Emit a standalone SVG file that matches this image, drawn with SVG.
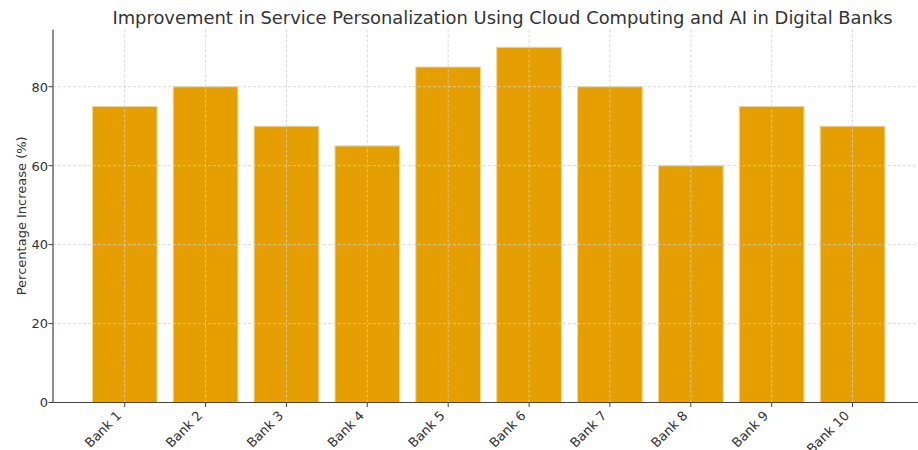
<svg xmlns="http://www.w3.org/2000/svg" width="918" height="450" viewBox="0 0 918 450">
  <style>
    text { font-family: "DejaVu Sans", "Liberation Sans", sans-serif; fill: #333333; }
    .title { font-size: 17.9px; }
    .tick { font-size: 13px; }
    .bar { fill: #E69F00; stroke: #f5d48c; stroke-width: 1; }
    .grid line { stroke: #cfcfcf; stroke-width: 0.8; stroke-dasharray: 3 2; }
    .spine { stroke: #444444; stroke-width: 1.2; }
    .tickmark { stroke: #444444; stroke-width: 1; }
  </style>
  <rect width="918" height="450" fill="#ffffff"/>

  <text class="title" x="502.5" y="23.5" text-anchor="middle">Improvement in Service Personalization Using Cloud Computing and AI in Digital Banks</text>

  <!-- bars: value v spans y = 402.5 - 3.947*v -->
  <g id="bars">
    <rect id="bank1" class="bar" x="92.4" y="106.5" width="64.7" height="296"/>
    <rect id="bank2" class="bar" x="173.2" y="86.7" width="64.7" height="315.8"/>
    <rect id="bank3" class="bar" x="254.1" y="126.2" width="64.7" height="276.3"/>
    <rect id="bank4" class="bar" x="335.0" y="145.9" width="64.7" height="256.6"/>
    <rect id="bank5" class="bar" x="415.8" y="67.0" width="64.7" height="335.5"/>
    <rect id="bank6" class="bar" x="496.7" y="47.3" width="64.7" height="355.2"/>
    <rect id="bank7" class="bar" x="577.6" y="86.7" width="64.7" height="315.8"/>
    <rect id="bank8" class="bar" x="658.5" y="165.7" width="64.7" height="236.8"/>
    <rect id="bank9" class="bar" x="739.3" y="106.5" width="64.7" height="296"/>
    <rect id="bank10" class="bar" x="820.2" y="126.2" width="64.7" height="276.3"/>
  </g>

  <!-- dashed grid over the bars -->
  <g class="grid">
    <line x1="53" y1="402.5" x2="918" y2="402.5"/>
    <line x1="53" y1="323.6" x2="918" y2="323.6"/>
    <line x1="53" y1="244.6" x2="918" y2="244.6"/>
    <line x1="53" y1="165.7" x2="918" y2="165.7"/>
    <line x1="53" y1="86.7" x2="918" y2="86.7"/>
    <line x1="124.7" y1="29.5" x2="124.7" y2="402.5"/>
    <line x1="205.6" y1="29.5" x2="205.6" y2="402.5"/>
    <line x1="286.5" y1="29.5" x2="286.5" y2="402.5"/>
    <line x1="367.3" y1="29.5" x2="367.3" y2="402.5"/>
    <line x1="448.2" y1="29.5" x2="448.2" y2="402.5"/>
    <line x1="529.1" y1="29.5" x2="529.1" y2="402.5"/>
    <line x1="609.9" y1="29.5" x2="609.9" y2="402.5"/>
    <line x1="690.8" y1="29.5" x2="690.8" y2="402.5"/>
    <line x1="771.7" y1="29.5" x2="771.7" y2="402.5"/>
    <line x1="852.5" y1="29.5" x2="852.5" y2="402.5"/>
  </g>

  <!-- spines and tick marks -->
  <g id="axes">
    <line class="spine" x1="53" y1="29.5" x2="53" y2="403"/>
    <line class="spine" x1="52.4" y1="402.5" x2="918" y2="402.5"/>
    <g class="tickmark">
      <line x1="48.5" y1="402.5" x2="53" y2="402.5"/>
      <line x1="48.5" y1="323.6" x2="53" y2="323.6"/>
      <line x1="48.5" y1="244.6" x2="53" y2="244.6"/>
      <line x1="48.5" y1="165.7" x2="53" y2="165.7"/>
      <line x1="48.5" y1="86.7" x2="53" y2="86.7"/>
      <line x1="124.7" y1="402.5" x2="124.7" y2="407"/>
      <line x1="205.6" y1="402.5" x2="205.6" y2="407"/>
      <line x1="286.5" y1="402.5" x2="286.5" y2="407"/>
      <line x1="367.3" y1="402.5" x2="367.3" y2="407"/>
      <line x1="448.2" y1="402.5" x2="448.2" y2="407"/>
      <line x1="529.1" y1="402.5" x2="529.1" y2="407"/>
      <line x1="609.9" y1="402.5" x2="609.9" y2="407"/>
      <line x1="690.8" y1="402.5" x2="690.8" y2="407"/>
      <line x1="771.7" y1="402.5" x2="771.7" y2="407"/>
      <line x1="852.5" y1="402.5" x2="852.5" y2="407"/>
    </g>
  </g>

  <!-- y tick labels -->
  <g id="yticks" class="tick" text-anchor="end">
    <text x="48" y="407.3">0</text>
    <text x="48" y="328.4">20</text>
    <text x="48" y="249.4">40</text>
    <text x="48" y="170.5">60</text>
    <text x="48" y="91.5">80</text>
  </g>

  <text id="ylabel" class="tick" transform="translate(25.5,215.8) rotate(-90)" text-anchor="middle">Percentage Increase (%)</text>

  <!-- x tick labels, rotated 45 degrees -->
  <g id="xticks" class="tick" text-anchor="end">
    <text transform="translate(122.2,416.5) rotate(-45)">Bank 1</text>
    <text transform="translate(203.1,416.5) rotate(-45)">Bank 2</text>
    <text transform="translate(284.0,416.5) rotate(-45)">Bank 3</text>
    <text transform="translate(364.8,416.5) rotate(-45)">Bank 4</text>
    <text transform="translate(445.7,416.5) rotate(-45)">Bank 5</text>
    <text transform="translate(526.6,416.5) rotate(-45)">Bank 6</text>
    <text transform="translate(607.4,416.5) rotate(-45)">Bank 7</text>
    <text transform="translate(688.3,416.5) rotate(-45)">Bank 8</text>
    <text transform="translate(769.2,416.5) rotate(-45)">Bank 9</text>
    <text transform="translate(850.0,416.5) rotate(-45)">Bank 10</text>
  </g>
</svg>
